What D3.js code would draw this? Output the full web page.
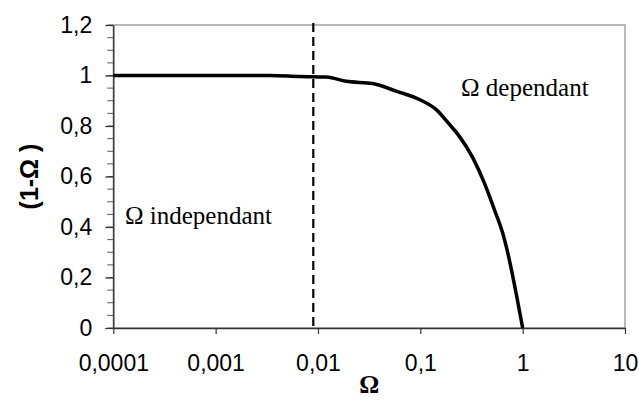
<!DOCTYPE html>
<html>
<head>
<meta charset="utf-8">
<script src="https://cdn.jsdelivr.net/npm/d3@7"></script>
<style>
  html, body { margin: 0; padding: 0; background: #fff; }
  svg { display: block; }
</style>
</head>
<body>
<svg id="chart" width="639" height="400"></svg>
<script>
// ---- data ----
const omega     = [0.0001, 0.001, 0.00338, 0.00664, 0.0121, 0.0189, 0.0342, 0.0582, 0.098, 0.143, 0.193, 0.241, 0.325, 0.423, 0.530, 0.638, 0.741, 0.863, 1.0];
const oneMinus  = [1.0, 1.0, 1.0, 0.996, 0.994, 0.977, 0.968, 0.938, 0.905, 0.865, 0.806, 0.759, 0.675, 0.574, 0.468, 0.376, 0.270, 0.138, 0.0];
const xTicks      = [0.0001, 0.001, 0.01, 0.1, 1, 10];
const xTickLabels = ["0,0001", "0,001", "0,01", "0,1", "1", "10"];
const yTicks      = [0, 0.2, 0.4, 0.6, 0.8, 1.0, 1.2];
const yTickLabels = ["0", "0,2", "0,4", "0,6", "0,8", "1", "1,2"];
const yMinorTicks = d3.range(0, 1.2001, 0.05);
const thresholdX  = [0.009];
const annotations = [
  { text: "\u03A9 dependant",   x: 0.25,    y: 0.92 },
  { text: "\u03A9 independant", x: 0.00013, y: 0.41 }
];
const xTitle = "\u03A9";
const yTitle = "(1-\u03A9 )";

// ---- layout ----
const L = 113.3, R = 625, T = 25, B = 328;
const svg = d3.select("#chart");
const x = d3.scaleLog().domain([0.0001, 10]).range([L, R]);
const y = d3.scaleLinear().domain([0, 1.2]).range([B, T]);

// plot border (top/right in grey)
svg.append("rect")
  .attr("x", L).attr("y", T).attr("width", R - L).attr("height", B - T)
  .attr("fill", "none").attr("stroke", "#8c8c8c").attr("stroke-width", 1.2);

// y minor ticks
svg.append("g").selectAll("line").data(yMinorTicks).join("line")
  .attr("x1", L - 6).attr("x2", L)
  .attr("y1", d => y(d)).attr("y2", d => y(d))
  .attr("stroke", "#555").attr("stroke-width", 1);

// y axis
const yAxis = svg.append("g").attr("transform", `translate(${L},0)`)
  .call(d3.axisLeft(y).tickValues(yTicks).tickFormat((d, i) => yTickLabels[i])
    .tickSize(8).tickSizeOuter(0).tickPadding(13));
yAxis.select(".domain").attr("stroke", "#333").attr("stroke-width", 1.4);
yAxis.selectAll(".tick line").attr("stroke", "#333").attr("stroke-width", 1.2);
yAxis.selectAll("text").attr("font-family", "Liberation Sans, Arial, sans-serif")
  .attr("font-size", 23).attr("fill", "#000");

// x axis
const xAxis = svg.append("g").attr("transform", `translate(0,${B})`)
  .call(d3.axisBottom(x).tickValues(xTicks).tickFormat((d, i) => xTickLabels[i])
    .tickSize(6).tickSizeOuter(0).tickPadding(21));
xAxis.select(".domain").attr("stroke", "#333").attr("stroke-width", 1.4);
xAxis.selectAll(".tick line").attr("stroke", "#333").attr("stroke-width", 1.2);
xAxis.selectAll("text").attr("font-family", "Liberation Sans, Arial, sans-serif")
  .attr("font-size", 23).attr("fill", "#000");

// dashed threshold
svg.append("g").selectAll("line").data(thresholdX).join("line")
  .attr("x1", d => x(d)).attr("x2", d => x(d))
  .attr("y1", T - 2).attr("y2", B)
  .attr("stroke", "#000").attr("stroke-width", 2.2)
  .attr("stroke-dasharray", "9,5");

// curve
const pts = omega.map((o, i) => [o, oneMinus[i]]);
svg.append("path").datum(pts)
  .attr("fill", "none").attr("stroke", "#000").attr("stroke-width", 3.5)
  .attr("stroke-linejoin", "round")
  .attr("d", d3.line().x(d => x(d[0])).y(d => y(d[1])).curve(d3.curveMonotoneX));

// annotations
svg.append("g").selectAll("text").data(annotations).join("text")
  .attr("x", d => x(d.x)).attr("y", d => y(d.y))
  .attr("font-family", "Liberation Serif, Times New Roman, serif")
  .attr("font-size", 25).attr("fill", "#000")
  .text(d => d.text);

// axis titles
svg.append("text")
  .attr("x", (L + R) / 2).attr("y", 393)
  .attr("text-anchor", "middle")
  .attr("font-family", "Liberation Serif, Times New Roman, serif")
  .attr("font-weight", "bold").attr("font-size", 25)
  .text(xTitle);

svg.append("text")
  .attr("transform", `translate(38,${(T + B) / 2}) rotate(-90)`)
  .attr("text-anchor", "middle")
  .attr("font-family", "Liberation Sans, Arial, sans-serif")
  .attr("font-weight", "bold").attr("font-size", 25)
  .text(yTitle);
</script>
</body>
</html>
